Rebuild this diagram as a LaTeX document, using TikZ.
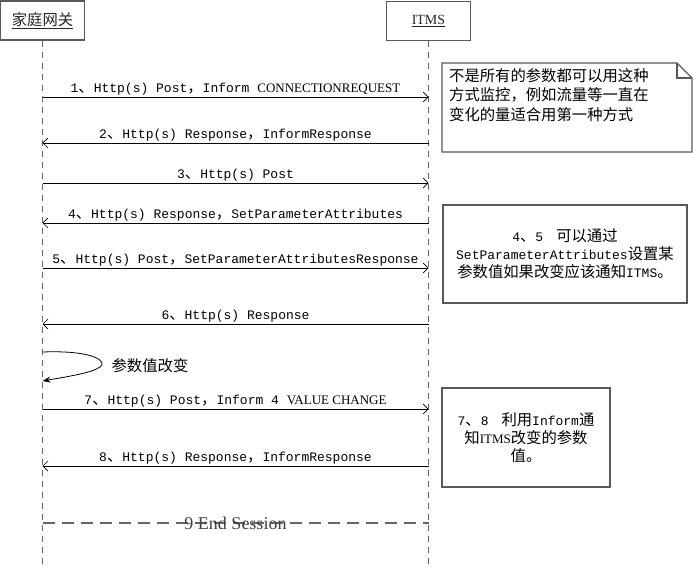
\documentclass[tikz,border=0pt]{standalone}
\usepackage{fontspec}
\setmainfont{Liberation Serif}
\newfontfamily\monofont{Liberation Mono}
\newfontfamily\cjkfont[Scale=1.18]{Noto Sans CJK SC}
\newcommand{\zhtxt}[1]{{\cjkfont #1}}
\usetikzlibrary{arrows.meta}

\begin{document}
\begin{tikzpicture}[x=1pt, y=-1pt,
    actor/.style={draw=black!65, line width=1.5pt, minimum width=84pt, minimum height=39pt, inner sep=0pt, text=black!85},
    lifeline/.style={draw=black!60, line width=0.9pt, dash pattern=on 6pt off 5pt},
    msg/.style={draw=black, line width=0.7pt, -{Straight Barb[length=5pt,width=10pt]}},
    lbl/.style={above, inner sep=1.5pt, text=black, font=\monofont\fontsize{13}{15}\selectfont},
    notebox/.style={draw=black!65, line width=1.2pt},
    notetext/.style={inner sep=0pt, text=black, font=\monofont\fontsize{13}{18}\selectfont}
  ]
    \useasboundingbox (0,0) rectangle (693,569);

    % participants
    \node[actor, font=\fontsize{13}{15}\selectfont] (gw) at (42.5,20.5) {\zhtxt{\underline{家庭网关}}};
    \node[actor, font=\fontsize{14}{16}\selectfont] (itms) at (428.5,21) {\underline{ITMS}};
    \coordinate (gwend) at (42.5,569);
    \coordinate (itmsend) at (428.5,569);
    \draw[lifeline] (gw.south) -- (gwend);
    \draw[lifeline] (itms.south) -- (itmsend);

    % message rows
    \foreach \n/\y in {1/97, 2/143, 3/183, 4/223, 5/268, 6/324, 7/409, 8/466, 9/523} {
        \coordinate (g\n) at (42.5,\y);
        \coordinate (t\n) at (428.5,\y);
    }

    \draw[msg] (g1) -- node[lbl] {1\zhtxt{、}Http(s) Post\zhtxt{，}Inform {\rmfamily CONNECTIONREQUEST}} (t1);
    \draw[msg] (t2) -- node[lbl] {2\zhtxt{、}Http(s) Response\zhtxt{，}InformResponse} (g2);
    \draw[msg] (g3) -- node[lbl] {3\zhtxt{、}Http(s) Post} (t3);
    \draw[msg] (t4) -- node[lbl] {4\zhtxt{、}Http(s) Response\zhtxt{，}SetParameterAttributes} (g4);
    \draw[msg] (g5) -- node[lbl] {5\zhtxt{、}Http(s) Post\zhtxt{，}SetParameterAttributesResponse} (t5);
    \draw[msg] (t6) -- node[lbl] {6\zhtxt{、}Http(s) Response} (g6);

    % self message
    \coordinate (ls) at (42.5,352);
    \coordinate (le) at (42.5,381);
    \draw[draw=black, line width=0.8pt, -{Stealth[length=8pt,width=6pt]}]
        (ls) .. controls (95,350) and (108,362) .. (100,367) .. controls (92,373) and (65,377) .. (le);
    \node[text=black, font=\fontsize{13}{15}\selectfont] (chg) at (150,366) {\zhtxt{参数值改变}};

    \draw[msg] (g7) -- node[lbl] {7\zhtxt{、}Http(s) Post\zhtxt{，}Inform 4 {\rmfamily VALUE CHANGE}} (t7);
    \draw[msg] (t8) -- node[lbl] {8\zhtxt{、}Http(s) Response\zhtxt{，}InformResponse} (g8);
    \draw[draw=black!60, line width=1.2pt, dash pattern=on 12pt off 7pt] (g9) -- node[text=black!75, font=\rmfamily\fontsize{18}{20}\selectfont] (endlbl) {9 End Session} (t9);

    % notes
    \draw[notebox] (442,63) -- (677,63) -- (692,78) -- (692,152) -- (442,152) -- cycle;
    \draw[notebox] (677,63) -- (677,78) -- (692,78);
    \node[notetext, anchor=north west, align=left, font=\fontsize{13}{19.5}\selectfont] (note1) at (449,68)
        {\zhtxt{不是所有的参数都可以用这种}\\\zhtxt{方式监控，例如流量等一直在}\\\zhtxt{变化的量适合用第一种方式}};

    \node[notebox, notetext, minimum width=244pt, minimum height=98pt, align=center] (note2) at (565,254)
        {4\zhtxt{、}5\quad\zhtxt{可以通过}\\SetParameterAttributes\zhtxt{设置某}\\\zhtxt{参数值如果改变应该通知}ITMS\zhtxt{。}};

    \node[notebox, notetext, minimum width=168pt, minimum height=99pt, align=center] (note3) at (526,437.5)
        {7\zhtxt{、}8\quad\zhtxt{利用}Inform\zhtxt{通}\\\zhtxt{知}{\rmfamily ITMS}\zhtxt{改变的参数}\\\zhtxt{值。}};
\end{tikzpicture}
\end{document}
